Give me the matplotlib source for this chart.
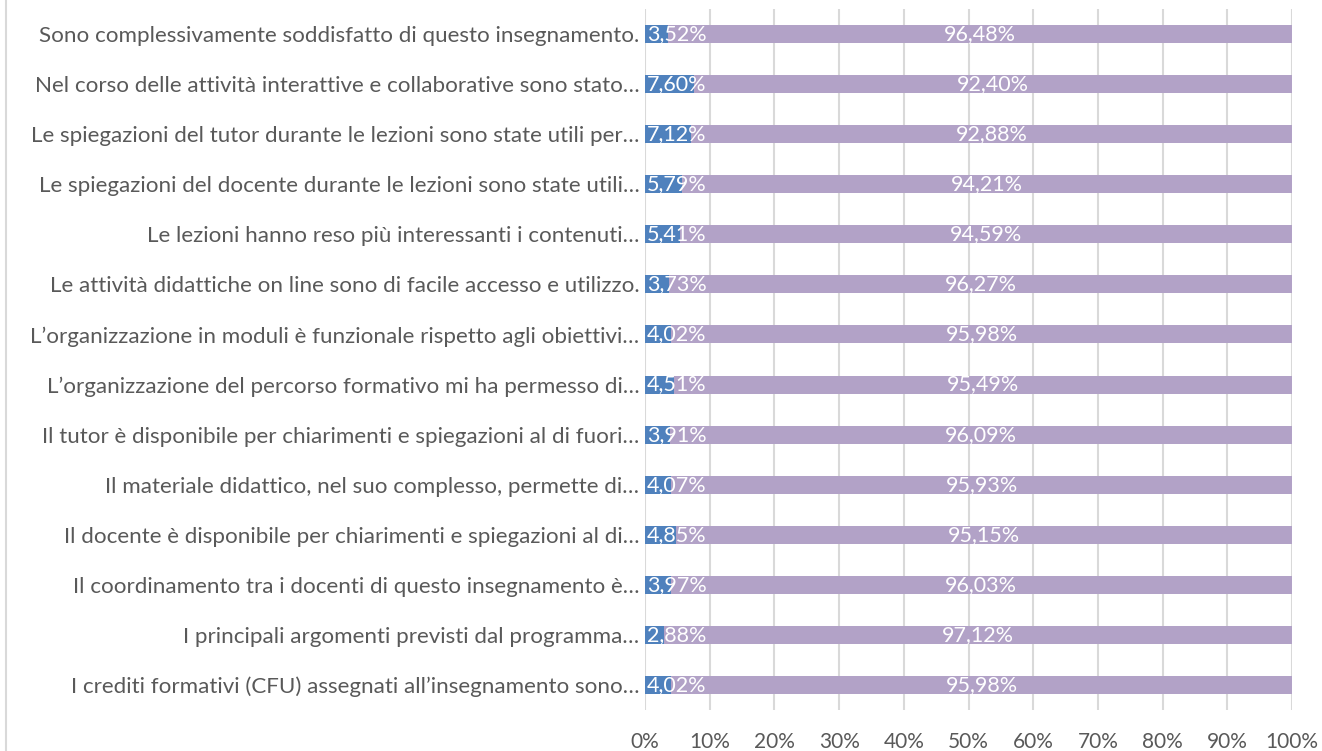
import matplotlib
matplotlib.use("Agg")
import matplotlib.pyplot as plt
from matplotlib.lines import Line2D
import numpy as np

categories = [
    "Sono complessivamente soddisfatto di questo insegnamento.",
    "Nel corso delle attività interattive e collaborative sono stato…",
    "Le spiegazioni del tutor durante le lezioni sono state utili per…",
    "Le spiegazioni del docente durante le lezioni sono state utili…",
    "Le lezioni hanno reso più interessanti i contenuti…",
    "Le attività didattiche on line sono di facile accesso e utilizzo.",
    "L’organizzazione in moduli è funzionale rispetto agli obiettivi…",
    "L’organizzazione del percorso formativo mi ha permesso di…",
    "Il tutor è disponibile per chiarimenti e spiegazioni al di fuori…",
    "Il materiale didattico, nel suo complesso, permette di…",
    "Il docente è disponibile per chiarimenti e spiegazioni al di…",
    "Il coordinamento tra i docenti di questo insegnamento è…",
    "I principali argomenti previsti dal programma…",
    "I crediti formativi (CFU) assegnati all’insegnamento sono…",
]
no_values = [3.52, 7.60, 7.12, 5.79, 5.41, 3.73, 4.02, 4.51, 3.91, 4.07, 4.85, 3.97, 2.88, 4.02]
si_values = [96.48, 92.40, 92.88, 94.21, 94.59, 96.27, 95.98, 95.49, 96.09, 95.93, 95.15, 96.03, 97.12, 95.98]
xticks = [0, 10, 20, 30, 40, 50, 60, 70, 80, 90, 100]

FONT = "Lato"
TXT = "#595959"
BLUE = "#4F81BD"
PURPLE = "#B2A2C7"
GRID = "#D9D9D9"

fig = plt.figure(figsize=(13.22, 7.51), dpi=100)
ax = fig.add_axes([645/1322, 41/751, (1292-645)/1322, (710-9)/751])

y = np.arange(len(categories))
h = 0.36
ax.barh(y, no_values, height=h, color=BLUE, zorder=3)
ax.barh(y, si_values, left=no_values, height=h, color=PURPLE, zorder=3)

def fmt(v):
    return f"{v:.2f}%".replace(".", ",")

for yi, a, b in zip(y, no_values, si_values):
    ax.text(0.3, yi, fmt(a), ha="left", va="center", color="white",
            fontsize=15.5, family=FONT, zorder=4)
    ax.text(a + b / 2, yi, fmt(b), ha="center", va="center", color="white",
            fontsize=15.5, family=FONT, zorder=4)

ax.set_xlim(0, 100)
ax.set_ylim(len(categories) - 0.5, -0.5)
ax.set_xticks(xticks)
ax.set_xticklabels([f"{t}%" for t in xticks], family=FONT, fontsize=15, color=TXT)
ax.set_yticks(y)
ax.set_yticklabels(categories, family=FONT, fontsize=16.1, color=TXT)
ax.tick_params(axis="both", length=0)
ax.tick_params(axis="x", pad=16)
ax.tick_params(axis="y", pad=4)
ax.xaxis.grid(True, color=GRID, linewidth=1.5, zorder=0)
ax.set_axisbelow(True)
for s in ax.spines.values():
    s.set_visible(False)

fig.add_artist(Line2D([6/1322, 6/1322], [0, 1], transform=fig.transFigure,
                      color=GRID, linewidth=1.5))

fig.savefig("out.png", dpi=100)
